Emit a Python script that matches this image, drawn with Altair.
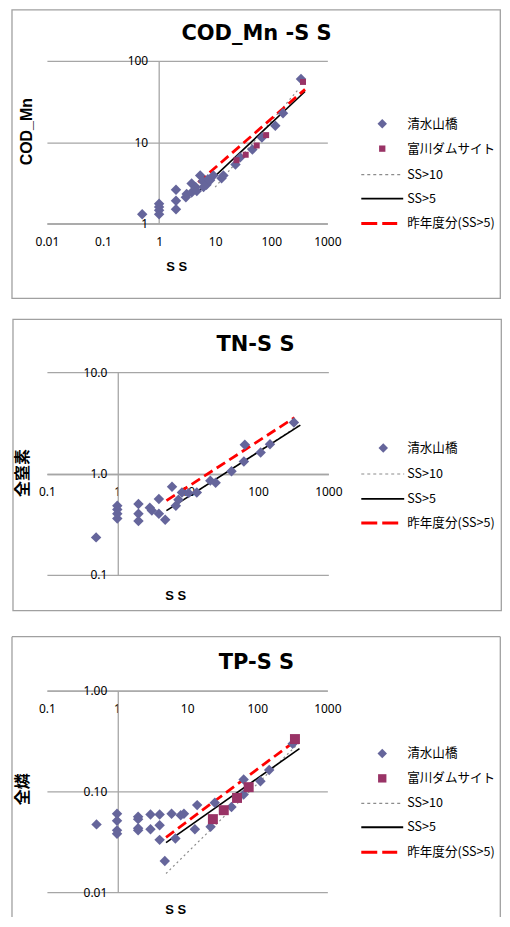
import altair as alt
import pandas as pd

# ---------------- data ----------------
LEGEND_NAMES = ["清水山橋", "富川ダムサイト", "SS>10", "SS>5", "昨年度分(SS>5)"]

# Panel 1 : COD_Mn - SS
P1_TITLE = "COD_Mn -S S"
P1_YTITLE = "COD_Mn"
P1_XTITLE = "S S"
P1_XTICKS = [0.01, 0.1, 1, 10, 100, 1000]
P1_YTICKS = [1, 10, 100]
P1_SHIMIZU_SS = [0.5, 1, 1, 1, 1, 2, 2, 2, 3, 3.1, 3.8, 3.8, 4.5, 4.7, 5.4, 6, 6.2, 7,
                 7.4, 8.1, 9.3, 13, 14, 23, 28, 46, 68, 118, 162, 339]
P1_SHIMIZU_Y = [1.3, 1.3, 1.45, 1.6, 1.75, 2.6, 1.9, 1.5, 2.1, 2.3, 3.1, 2.4, 2.8, 2.5,
                3.9, 3.3, 2.8, 3.0, 3.5, 3.4, 3.9, 3.6, 3.9, 5.3, 6.5, 8.1, 11.4, 15.9,
                22.6, 59.6]
P1_TOMI_SS = [24, 35, 55, 81, 368]
P1_TOMI_Y = [6.0, 7.0, 9.1, 12.2, 55]
P1_FIT10_SS = [10, 300]
P1_FIT10_Y = [2.8, 44]
P1_FIT5_SS = [5, 400]
P1_FIT5_Y = [2.45, 42]
P1_PREV_SS = [5, 400]
P1_PREV_Y = [3.2, 44.6]

# Panel 2 : TN - SS
P2_TITLE = "TN-S S"
P2_YTITLE = "全窒素"
P2_XTITLE = "S S"
P2_XTICKS = [0.1, 1, 10, 100, 1000]
P2_YTICKS = [0.1, 1, 10]
P2_SHIMIZU_SS = [0.5, 1, 1, 1, 1, 2, 2, 2, 2.9, 3.1, 3.9, 3.9, 4.8, 6.0, 6.8, 7.4, 8.3,
                 10.3, 13.5, 21, 25, 42, 63, 65, 109, 148, 324]
P2_SHIMIZU_Y = [0.234, 0.36, 0.40, 0.44, 0.48, 0.50, 0.40, 0.34, 0.46, 0.43, 0.56, 0.40,
                0.35, 0.74, 0.48, 0.55, 0.65, 0.64, 0.65, 0.85, 0.81, 1.05, 1.31, 1.92,
                1.61, 1.94, 3.18]
P2_FIT10_SS = [10, 400]
P2_FIT10_Y = [0.58, 3.05]
P2_FIT5_SS = [5, 400]
P2_FIT5_Y = [0.43, 3.0]
P2_PREV_SS = [5, 330]
P2_PREV_Y = [0.54, 3.56]

# Panel 3 : TP - SS
P3_TITLE = "TP-S S"
P3_YTITLE = "全燐"
P3_XTITLE = "S S"
P3_XTICKS = [0.1, 1, 10, 100, 1000]
P3_YTICKS = [0.01, 0.1, 1]
P3_SHIMIZU_SS = [0.51, 1, 1, 1, 1, 2, 2, 2, 2, 3, 3, 4.05, 4.05, 4.05, 4.8, 6, 6.8, 8.1,
                 9, 13.9, 12.9, 21.6, 24.8, 42.9, 64, 64, 111, 148, 320]
P3_SHIMIZU_Y = [0.047, 0.060, 0.051, 0.041, 0.038, 0.056, 0.053, 0.043, 0.041, 0.059,
                0.042, 0.059, 0.046, 0.033, 0.0204, 0.060, 0.034, 0.058, 0.060, 0.073,
                0.042, 0.0445, 0.077, 0.070, 0.131, 0.093, 0.126, 0.163, 0.297]
P3_TOMI_SS = [23.3, 33.3, 51.5, 75.5, 345]
P3_TOMI_Y = [0.053, 0.065, 0.086, 0.110, 0.33]
P3_FIT10_SS = [5, 390]
P3_FIT10_Y = [0.0153, 0.30]
P3_FIT5_SS = [5, 400]
P3_FIT5_Y = [0.031, 0.265]
P3_PREV_SS = [5, 350]
P3_PREV_Y = [0.035, 0.317]

# ---------------- styles ----------------
GRID = "#a6a6a6"
BOX = "#a0a0a0"
DIAMOND = "#65659b"
SQUARE = "#993366"
LATIN_BOLD = "Liberation Sans"
TITLE_FONT = "DejaVu Sans"
CJK = "Noto Sans CJK JP"
ONE = pd.DataFrame({"k": [0]})


def panel(title, ytitle, xtitle, xticks, yticks, yfmt, shim, tomi, fits, g, legend):
    xs = alt.Scale(type="log", domain=[xticks[0], xticks[-1]], nice=False)
    ys = alt.Scale(type="log", domain=[yticks[0], yticks[-1]], nice=False)
    common = dict(ticks=False, tickSize=0, domainColor=GRID, domainWidth=1.3,
                  labelFont="Noto Sans", labelFontSize=12, labelColor="#000",
                  labelFlush=False, labelOverlap=False, title=None)
    xa = alt.Axis(values=xticks, labelExpr="format(datum.value, '~g')", grid=False,
                  labelPadding=13, offset=g["xoff"], **common)
    ya = alt.Axis(values=yticks, format=yfmt, grid=True, gridColor=GRID, gridWidth=1.3,
                  labelPadding=11, offset=g["yoff"], **common)
    X = alt.X("ss:Q", scale=xs, axis=xa)
    Y = alt.Y("v:Q", scale=ys, axis=ya)

    layers = []
    fx1, fx2, fy1, fy2 = g["frame"]
    layers.append(alt.Chart(ONE).mark_rect(fill="white", opacity=0).encode(
        x=alt.value(fx1), x2=alt.value(fx2), y=alt.value(fy1), y2=alt.value(fy2)))
    bx1, bx2, by1, by2 = g["box"]
    if g["box_closed"]:
        layers.append(alt.Chart(ONE).mark_rect(fillOpacity=0, stroke=BOX, strokeWidth=1.3).encode(
            x=alt.value(bx1), x2=alt.value(bx2), y=alt.value(by1), y2=alt.value(by2)))
    else:
        layers.append(alt.Chart(ONE).mark_rule(color=BOX, strokeWidth=1.3).encode(
            x=alt.value(bx1), x2=alt.value(bx2), y=alt.value(by1)))
        for bx in (bx1, bx2):
            layers.append(alt.Chart(ONE).mark_rule(color=BOX, strokeWidth=1.3).encode(
                x=alt.value(bx), y=alt.value(by1), y2=alt.value(by2)))

    styles = [
        dict(color="#8c8c8c", strokeDash=[2, 3], strokeWidth=1.2),
        dict(color="#000000", strokeWidth=1.6),
        dict(color="#ff0000", strokeDash=[10, 5], strokeWidth=2.8),
    ]
    for (fx, fy), st in zip(fits, styles):
        df = pd.DataFrame({"ss": fx, "v": fy})
        layers.append(alt.Chart(df).mark_line(**st).encode(x=X, y=Y))

    df = pd.DataFrame({"ss": shim[0], "v": shim[1]})
    layers.append(alt.Chart(df).mark_point(shape="diamond", filled=True, size=110,
                                           color=DIAMOND, opacity=1).encode(x=X, y=Y))
    if tomi is not None:
        df = pd.DataFrame({"ss": tomi[0], "v": tomi[1]})
        layers.append(alt.Chart(df).mark_point(shape="square", filled=True, size=g["sq"],
                                               color=SQUARE, opacity=1).encode(x=X, y=Y))

    tx, ty = g["title"]
    layers.append(alt.Chart(ONE).mark_text(text=title, font=TITLE_FONT, fontSize=21,
                                           fontWeight="bold", color="#000", align="center",
                                           baseline="middle").encode(x=alt.value(tx), y=alt.value(ty)))
    yx, yy = g["ytitle"]
    layers.append(alt.Chart(ONE).mark_text(text=ytitle, font=g["yfont"], fontSize=g["ysize"],
                                           fontWeight="bold", color="#000", align="center",
                                           baseline="middle", angle=270).encode(x=alt.value(yx), y=alt.value(yy)))
    xx, xy = g["xtitle"]
    layers.append(alt.Chart(ONE).mark_text(text=xtitle, font=LATIN_BOLD, fontSize=13,
                                           fontWeight="bold", color="#000", align="center",
                                           baseline="middle").encode(x=alt.value(xx), y=alt.value(xy)))

    lx1, lx2, mx, ltx = g["leg_x"]
    for (kind, label), ry in zip(legend, g["leg_rows"]):
        if kind == "diamond":
            layers.append(alt.Chart(ONE).mark_point(shape="diamond", filled=True, size=90,
                                                    color=DIAMOND, opacity=1).encode(
                x=alt.value(mx), y=alt.value(ry)))
        elif kind == "square":
            layers.append(alt.Chart(ONE).mark_point(shape="square", filled=True, size=g["sq_leg"],
                                                    color=SQUARE, opacity=1).encode(
                x=alt.value(mx), y=alt.value(ry)))
        else:
            st = {"dot": dict(color="#8c8c8c", strokeDash=[3, 3], strokeWidth=1.2),
                  "solid": dict(color="#000000", strokeWidth=1.8),
                  "dash": dict(color="#ff0000", strokeDash=[16, 5], strokeWidth=3)}[kind]
            end = lx2 - 6 if kind == "dash" else lx2
            layers.append(alt.Chart(ONE).mark_rule(**st).encode(
                x=alt.value(lx1), x2=alt.value(end), y=alt.value(ry)))
        layers.append(alt.Chart(ONE).mark_text(text=label, font=CJK, fontSize=12.6, color="#000",
                                               align="left", baseline="middle").encode(
            x=alt.value(ltx), y=alt.value(ry)))

    return alt.layer(*layers).properties(width=g["W"], height=g["H"])


# geometry relative to each plot area (page width budget: svg must stay <= 494px wide)
G1 = dict(W=281, H=163, xoff=0, yoff=-112, frame=(-39, 455, -52, 256), box=(-35, 454.3, -51, 238),
          box_closed=True, title=(210, -27), ytitle=(-20, 71), yfont=LATIN_BOLD, ysize=16,
          xtitle=(130, 207), leg_x=(315, 357, 336, 361), leg_rows=[63, 88, 114, 138, 163],
          sq=36, sq_leg=40)
G2 = dict(W=282, H=203, xoff=-101, yoff=-71, frame=(-38, 456, -56, 262), box=(-34, 455.3, -53, 239),
          box_closed=True, title=(209, -27), ytitle=(-24, 101), yfont=CJK, ysize=16,
          xtitle=(129, 224), leg_x=(315, 358, 337, 361), leg_rows=[76, 102, 127, 151],
          sq=36, sq_leg=40)
G3 = dict(W=281, H=202, xoff=-202, yoff=-71, frame=(-39, 455, -57, 227), box=(-35, 454.3, -54, 227),
          box_closed=False, title=(210, -28), ytitle=(-24, 99), yfont=CJK, ysize=16,
          xtitle=(129, 220), leg_x=(315, 357, 336, 361), leg_rows=[63, 88, 113, 137, 162],
          sq=100, sq_leg=70)

LEG_FULL = list(zip(["diamond", "square", "dot", "solid", "dash"], LEGEND_NAMES))
LEG_TN = [LEG_FULL[0]] + LEG_FULL[2:]

p1 = panel(P1_TITLE, P1_YTITLE, P1_XTITLE, P1_XTICKS, P1_YTICKS, "~g",
           (P1_SHIMIZU_SS, P1_SHIMIZU_Y), (P1_TOMI_SS, P1_TOMI_Y),
           [(P1_FIT10_SS, P1_FIT10_Y), (P1_FIT5_SS, P1_FIT5_Y), (P1_PREV_SS, P1_PREV_Y)],
           G1, LEG_FULL)
p2 = panel(P2_TITLE, P2_YTITLE, P2_XTITLE, P2_XTICKS, P2_YTICKS, ".1f",
           (P2_SHIMIZU_SS, P2_SHIMIZU_Y), None,
           [(P2_FIT10_SS, P2_FIT10_Y), (P2_FIT5_SS, P2_FIT5_Y), (P2_PREV_SS, P2_PREV_Y)],
           G2, LEG_TN)
p3 = panel(P3_TITLE, P3_YTITLE, P3_XTITLE, P3_XTICKS, P3_YTICKS, ".2f",
           (P3_SHIMIZU_SS, P3_SHIMIZU_Y), (P3_TOMI_SS, P3_TOMI_Y),
           [(P3_FIT10_SS, P3_FIT10_Y), (P3_FIT5_SS, P3_FIT5_Y), (P3_PREV_SS, P3_PREV_Y)],
           G3, LEG_FULL)

chart = alt.vconcat(p1, p2, p3, spacing=0).properties(
    padding={"left": 0, "top": 0, "right": 0, "bottom": 0}
).configure_view(stroke=None)
chart.save("out.html", embed_options={"renderer": "svg", "actions": False})
